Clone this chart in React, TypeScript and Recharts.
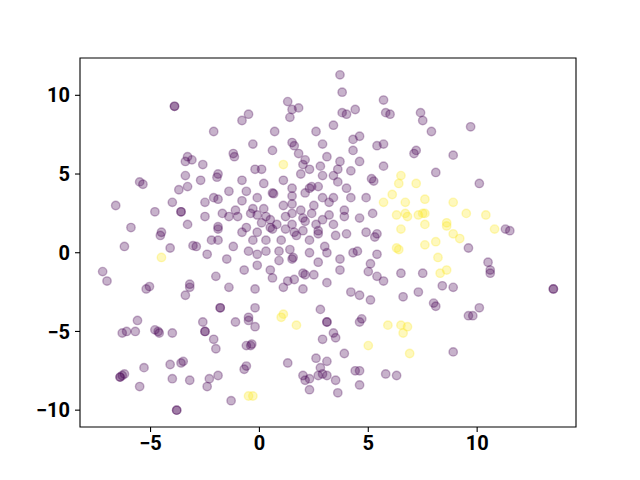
import { ScatterChart, Scatter, XAxis, YAxis, ReferenceArea } from 'recharts';

// cluster 0 (dark purple)
const purplePoints: [number, number][] = [
  [-3.9, 9.3], [-3.9, 9.3], [-3.3, 6.1], [-3.1, 5.9], [-3.4, 5.8], [-2.6, 5.6], [-3.4, 4.9], [-2.7, 4.6],
  [-5.5, 4.5], [-5.35, 4.35],
  [1.3, 9.6], [1.8, 9.2], [1.5, 9.1], [1.4, 8.6], [-0.5, 8.8], [-0.8, 8.4], [-2.1, 7.7], [0.7, 7.7],
  [2.6, 7.7], [-0.3, 6.9], [1.5, 7.0], [1.6, 6.8], [2.9, 6.9], [0.6, 6.5], [-1.2, 6.3], [-1.15, 6.1],
  [1.8, 6.3], [2.1, 5.9], [3.1, 6.1], [2.0, 5.6], [2.3, 5.3], [2.8, 5.5], [-0.2, 5.3], [0.1, 5.3],
  [-1.9, 5.0], [-1.95, 4.8], [1.9, 5.0], [2.9, 4.9], [-0.8, 4.6], [1.1, 4.6], [0.2, 4.4],
  [3.7, 11.3], [3.8, 10.2], [5.7, 9.7], [3.8, 8.9], [4.0, 8.8], [4.4, 9.1], [5.8, 8.9], [6.0, 8.8],
  [7.4, 8.9], [7.5, 8.4], [3.4, 8.1], [7.9, 7.7], [4.6, 7.4], [4.3, 7.2], [4.3, 6.5], [5.4, 6.8],
  [5.7, 6.9], [7.2, 6.5], [7.1, 6.3], [8.9, 6.2], [3.7, 5.8], [4.6, 5.8], [3.6, 5.3], [4.2, 5.2],
  [5.7, 5.5], [8.1, 5.1], [3.4, 4.9], [5.15, 4.7], [5.25, 4.55], [3.6, 4.5],
  [9.7, 8.0], [10.1, 4.4],
  [-3.7, 4.0], [-3.3, 4.2], [-6.6, 3.0], [-4.0, 3.2], [-4.8, 2.6], [-3.6, 2.6], [-3.6, 2.6], [-2.5, 3.2],
  [-2.5, 2.3], [-3.3, 1.8], [-5.9, 1.6], [-4.5, 1.3], [-4.55, 1.1], [-6.2, 0.4], [-4.1, 0.3], [-3.05, 0.45],
  [-2.9, 0.4], [-2.4, -0.1], [-7.2, -1.2], [-7.0, -1.8], [-5.2, -2.3], [-5.05, -2.15], [-3.2, -2.0],
  [-3.2, -2.2], [-3.4, -2.7],
  [1.5, 4.1], [2.3, 4.1], [2.4, 4.2], [2.7, 4.2], [-1.4, 3.9], [-0.6, 3.9], [0.6, 3.8], [0.65, 3.75],
  [-2.1, 3.5], [-1.9, 3.4], [-0.1, 3.5], [1.5, 3.6], [2.1, 3.8], [2.9, 3.5], [-0.8, 3.3], [1.1, 3.0],
  [1.5, 3.1], [2.5, 3.0], [3.2, 3.2], [-0.3, 2.8], [0.2, 2.8], [-1.1, 2.7], [-1.7, 2.5], [-1.4, 2.3],
  [-1.0, 2.3], [-0.4, 2.5], [-0.1, 2.4], [0.3, 2.3], [1.5, 2.5], [1.2, 2.3], [1.9, 2.7], [2.0, 2.2],
  [2.1, 2.0], [2.4, 2.5], [2.9, 2.1], [0.1, 1.9], [0.5, 2.1], [0.5, 1.6], [0.8, 1.8], [1.5, 1.8],
  [2.6, 1.8], [-1.9, 1.65], [-1.9, 1.5], [-0.6, 1.6], [-0.8, 1.3], [-0.1, 1.3], [0.6, 1.5], [1.2, 1.5],
  [1.6, 1.3], [2.0, 1.4], [2.7, 1.4], [2.7, 1.2], [1.7, 1.1], [2.3, 0.8], [-2.2, 0.8], [-1.9, 0.8],
  [-0.3, 0.8], [0.3, 0.8], [1.0, 0.8], [3.0, 0.4], [-1.2, 0.4], [-0.5, 0.1], [-0.1, -0.1], [0.3, 0.1],
  [0.9, 0.1], [1.4, 0.2], [1.5, -0.4], [1.55, -0.3], [2.3, 0.0], [3.1, 0.0], [-1.5, -0.4], [0.9, -0.5],
  [2.7, -0.6], [-0.1, -0.8], [-0.7, -1.1], [0.5, -1.1], [2.0, -1.3], [2.1, -1.4], [2.5, -1.4], [-2.0, -1.5],
  [0.6, -1.6], [1.6, -1.7], [1.3, -1.8], [1.1, -2.2], [3.1, -1.9], [-1.4, -2.2], [-0.2, -2.3], [2.0, -2.3],
  [4.0, 4.1], [3.4, 3.5], [4.2, 3.5], [4.9, 3.5], [3.9, 2.7], [3.9, 2.3], [3.2, 2.4], [4.6, 2.2],
  [5.2, 2.5], [3.4, 1.8], [3.5, 1.1], [4.0, 1.2], [4.9, 1.3], [5.3, 1.0], [5.4, 1.2], [4.3, 0.0],
  [4.5, 0.1], [5.4, -0.1], [3.7, -0.4], [5.1, -0.7], [3.7, -1.1], [5.0, -1.2], [6.5, -1.3], [7.5, -1.3],
  [5.4, -1.5], [5.7, -1.8], [8.4, -2.1], [8.9, -2.2], [4.2, -2.5], [4.6, -2.7], [5.1, -3.0], [6.6, -2.8],
  [7.3, -2.5], [8.0, -3.2], [8.1, -3.4],
  [11.3, 1.5], [11.5, 1.4], [9.6, 0.3], [10.5, -0.6], [10.6, -1.1], [10.6, -1.3], [13.5, -2.3], [13.5, -2.3],
  [-5.6, -4.3], [-6.3, -5.1], [-6.1, -5.0], [-5.7, -5.0], [-4.8, -4.9], [-4.65, -5.0], [-4.6, -5.1],
  [-4.0, -5.1], [-2.6, -4.4], [-2.5, -5.0], [-2.5, -5.0], [-5.3, -7.3], [-4.1, -7.1], [-3.6, -7.0],
  [-3.5, -6.9], [-6.4, -7.9], [-6.4, -7.9], [-6.3, -7.8], [-6.2, -7.7], [-5.5, -8.5], [-4.0, -8.0],
  [-3.2, -8.1], [-2.4, -8.5], [-3.8, -10.0], [-3.8, -10.0],
  [-1.8, -3.5], [-1.8, -3.5], [-0.2, -3.5], [-1.1, -4.4], [-0.5, -4.1], [-0.5, -4.3], [-0.2, -4.7],
  [2.8, -3.6], [3.1, -4.4], [3.1, -4.4], [-2.1, -5.5], [-2.0, -6.1], [2.9, -5.5], [-0.6, -5.9],
  [-0.4, -5.9], [-0.35, -5.8], [1.3, -7.0], [-0.7, -7.4], [-0.6, -7.2], [-1.9, -7.8], [-2.3, -8.0],
  [2.6, -6.7], [3.1, -6.9], [2.8, -7.3], [2.0, -7.8], [2.1, -8.1], [2.3, -8.0], [2.7, -7.8], [2.9, -7.7],
  [3.1, -7.8], [2.3, -8.7], [-1.3, -9.4],
  [4.7, -4.2], [4.6, -4.4], [3.4, -5.1], [3.5, -5.4], [3.9, -6.4], [8.9, -6.3], [4.4, -7.5], [4.6, -7.5],
  [5.8, -7.7], [6.3, -7.8], [3.5, -8.1], [4.6, -8.4], [3.6, -8.9],
  [10.1, -3.5], [9.6, -4.0], [9.8, -4.0],
];

// cluster 1 (yellow)
const yellowPoints: [number, number][] = [
  [1.1, 5.6], [6.5, 4.9], [6.4, 4.4], [7.2, 4.4], [-4.5, -0.3], [6.1, 3.7], [5.7, 3.2], [6.7, 3.2],
  [7.6, 3.4], [8.9, 3.2], [6.3, 2.4], [6.7, 2.5], [6.8, 2.3], [7.3, 2.4], [7.5, 2.5], [7.6, 2.5],
  [7.6, 1.8], [8.6, 1.9], [8.6, 1.7], [8.9, 1.2], [6.5, 1.5], [7.6, 0.5], [8.1, 0.7], [6.3, 0.3],
  [6.4, 0.2], [8.2, -0.3], [8.3, -1.3], [8.6, -1.1], [9.5, 2.5], [10.4, 2.4], [10.8, 1.5], [9.2, 0.9],
  [1.1, -3.9], [1.0, -4.1], [1.7, -4.6], [-0.5, -9.1], [-0.3, -9.1], [5.9, -4.6], [6.5, -4.6],
  [6.8, -4.7], [6.6, -5.1], [5.0, -5.9], [6.9, -6.4],
];

const xTicks = [-5, 0, 5, 10];
const yTicks = [-10, -5, 0, 5, 10];
const xDomain: [number, number] = [-8.24, 14.54];
const yDomain: [number, number] = [-11.07, 12.37];

const toRows = (pts: [number, number][]) => pts.map(([x, y]) => ({ x, y }));

const tickStyle = { fontFamily: 'Roboto', fontWeight: 700, fontSize: 20, fill: '#000' };
const fmt = (v: number) => String(v).replace('-', '\u2212');

const dot = (color: string) => (props: any) => (
  <circle
    cx={props.cx}
    cy={props.cy}
    r={4.2}
    fill={color}
    fillOpacity={0.3}
    stroke={color}
    strokeOpacity={0.3}
    strokeWidth={1.4}
  />
);

export default function App() {
  return (
    <div style={{ position: 'absolute', left: 0, top: 0, width: 640, height: 480, background: '#fff' }}>
      <ScatterChart width={640} height={480} margin={{ top: 58, right: 64, bottom: 0, left: 0 }}>
        <XAxis
          type="number"
          dataKey="x"
          domain={xDomain}
          ticks={xTicks}
          allowDataOverflow
          height={53}
          tick={tickStyle}
          tickFormatter={fmt}
          tickSize={5}
          tickMargin={4}
          stroke="#000"
          tickLine={{ stroke: '#000', strokeWidth: 1.1 }}
          axisLine={false}
        />
        <YAxis
          type="number"
          dataKey="y"
          domain={yDomain}
          ticks={yTicks}
          allowDataOverflow
          width={80}
          tick={tickStyle}
          tickFormatter={fmt}
          tickSize={5}
          tickMargin={5}
          stroke="#000"
          tickLine={{ stroke: '#000', strokeWidth: 1.1 }}
          axisLine={false}
        />
        <ReferenceArea
          x1={xDomain[0]}
          x2={xDomain[1]}
          y1={yDomain[0]}
          y2={yDomain[1]}
          fill="none"
          stroke="#000"
          strokeWidth={1.1}
          strokeOpacity={1}
        />
        <Scatter data={toRows(purplePoints)} shape={dot('#440154')} isAnimationActive={false} />
        <Scatter data={toRows(yellowPoints)} shape={dot('#fde725')} isAnimationActive={false} />
      </ScatterChart>
    </div>
  );
}
